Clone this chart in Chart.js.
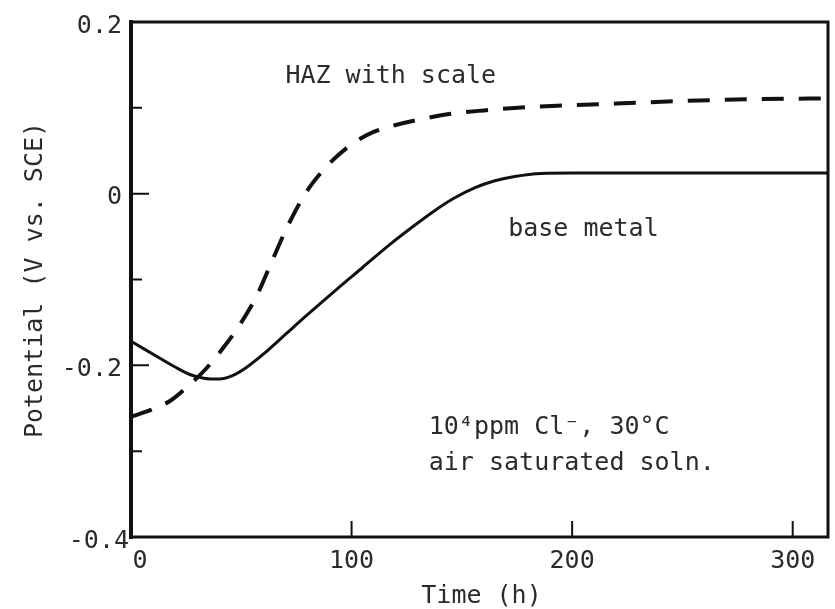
<!DOCTYPE html>
<html>
<head>
<meta charset="utf-8">
<script src="https://cdn.jsdelivr.net/npm/chart.js@4/dist/chart.umd.min.js"></script>
<style>
  html, body { margin: 0; padding: 0; background: #fff; }
  #wrap { width: 835px; height: 609px; position: relative; }
</style>
</head>
<body>
<div id="wrap"><canvas id="chart" width="835" height="609"></canvas></div>
<script>
// Open-circuit potential vs. immersion time
const timeBase = [0, 10, 20, 27, 33, 40, 46, 52, 60, 70, 80, 93, 105, 117, 128, 137, 146, 156, 165, 174, 186, 200, 240, 280, 316];
const potentialBase = [-0.172, -0.187, -0.202, -0.211, -0.215, -0.216, -0.212, -0.203, -0.187, -0.164, -0.141, -0.112, -0.086, -0.060, -0.038, -0.021, -0.006, 0.007, 0.015, 0.020, 0.0235, 0.024, 0.024, 0.024, 0.024];

const timeHaz = [0, 9, 18, 26, 34, 42, 50, 57, 64, 71, 79, 86, 94, 102, 110, 120, 132, 145, 160, 180, 200, 220, 250, 280, 316];
const potentialHaz = [-0.260, -0.252, -0.241, -0.224, -0.204, -0.179, -0.150, -0.119, -0.078, -0.038, 0.000, 0.024, 0.045, 0.061, 0.072, 0.080, 0.087, 0.093, 0.097, 0.101, 0.103, 0.105, 0.108, 0.110, 0.111];

// Axis ticks
const xTickValues = [0, 100, 200, 300];
const xTickLabels = ['0', '100', '200', '300'];
const yMajorValues = [0.2, 0, -0.2, -0.4];
const yMajorLabels = ['0.2', '0', '-0.2', '-0.4'];
const yMinorValues = [0.1, -0.1, -0.3];

const X_MIN = 0, X_MAX = 316, Y_MIN = -0.4, Y_MAX = 0.2;

const FONT = '25px "DejaVu Sans Mono", "Liberation Mono", monospace';
const INK = '#111';
const TEXT = '#2b2b2b';

function pairs(xs, ys) { return xs.map((x, i) => ({ x: x, y: ys[i] })); }

const framePlugin = {
  id: 'frameAndLabels',
  afterDatasetsDraw(chart) {
    const { ctx, chartArea: a, scales: { x, y } } = chart;
    ctx.save();
    ctx.strokeStyle = INK;
    ctx.lineCap = 'square';

    // box around the plot
    ctx.lineWidth = 3;
    ctx.strokeRect(a.left, a.top, a.right - a.left, a.bottom - a.top);
    ctx.lineWidth = 4;
    ctx.beginPath(); ctx.moveTo(a.left, a.top); ctx.lineTo(a.left, a.bottom); ctx.stroke();

    // inward ticks
    ctx.lineCap = 'butt';
    ctx.lineWidth = 2;
    ctx.beginPath();
    yMajorValues.forEach(v => {
      if (v === Y_MAX || v === Y_MIN) return;
      const py = y.getPixelForValue(v);
      ctx.moveTo(a.left, py); ctx.lineTo(a.left + 18, py);
    });
    yMinorValues.forEach(v => {
      const py = y.getPixelForValue(v);
      ctx.moveTo(a.left, py); ctx.lineTo(a.left + 11, py);
    });
    xTickValues.forEach(v => {
      if (v === X_MIN) return;
      const px = x.getPixelForValue(v);
      ctx.moveTo(px, a.bottom); ctx.lineTo(px, a.bottom - 16);
    });
    ctx.stroke();

    // tick labels
    ctx.fillStyle = TEXT;
    ctx.font = FONT;
    ctx.textBaseline = 'middle';
    ctx.textAlign = 'right';
    yMajorValues.forEach((v, i) => {
      const right = v === Y_MIN ? a.left - 2 : a.left - 9;
      ctx.fillText(yMajorLabels[i], right, y.getPixelForValue(v) + 4);
    });
    ctx.textAlign = 'center';
    xTickValues.forEach((v, i) => {
      const shift = v === X_MIN ? 9 : 0;
      ctx.fillText(xTickLabels[i], x.getPixelForValue(v) + shift, a.bottom + 24);
    });

    // axis titles
    ctx.fillText('Time (h)', (a.left + a.right) / 2 + 2, 596);
    ctx.save();
    ctx.translate(35, 280);
    ctx.rotate(-Math.PI / 2);
    ctx.fillText('Potential (V vs. SCE)', 0, 0);
    ctx.restore();

    // curve annotations
    ctx.textAlign = 'left';
    ctx.fillText('HAZ with scale', x.getPixelForValue(70), y.getPixelForValue(0.137));
    ctx.fillText('base metal', x.getPixelForValue(171), y.getPixelForValue(-0.042));
    ctx.fillText('10\u2074ppm Cl\u207B, 30\u00B0C', x.getPixelForValue(135), y.getPixelForValue(-0.273));
    ctx.fillText('air saturated soln.', x.getPixelForValue(135), y.getPixelForValue(-0.314));
    ctx.restore();
  }
};

new Chart(document.getElementById('chart'), {
  type: 'line',
  data: {
    datasets: [
      {
        label: 'base metal',
        data: pairs(timeBase, potentialBase),
        borderColor: INK,
        borderWidth: 3,
        pointRadius: 0,
        cubicInterpolationMode: 'monotone',
        fill: false
      },
      {
        label: 'HAZ with scale',
        data: pairs(timeHaz, potentialHaz),
        borderColor: INK,
        borderWidth: 4,
        borderDash: [22, 15],
        pointRadius: 0,
        cubicInterpolationMode: 'monotone',
        fill: false
      }
    ]
  },
  options: {
    responsive: false,
    animation: false,
    devicePixelRatio: 1,
    layout: { padding: { left: 131, top: 22, right: 7, bottom: 72 } },
    plugins: { legend: { display: false }, tooltip: { enabled: false } },
    scales: {
      x: { type: 'linear', min: X_MIN, max: X_MAX, display: false },
      y: { type: 'linear', min: Y_MIN, max: Y_MAX, display: false }
    }
  },
  plugins: [framePlugin]
});
</script>
</body>
</html>
